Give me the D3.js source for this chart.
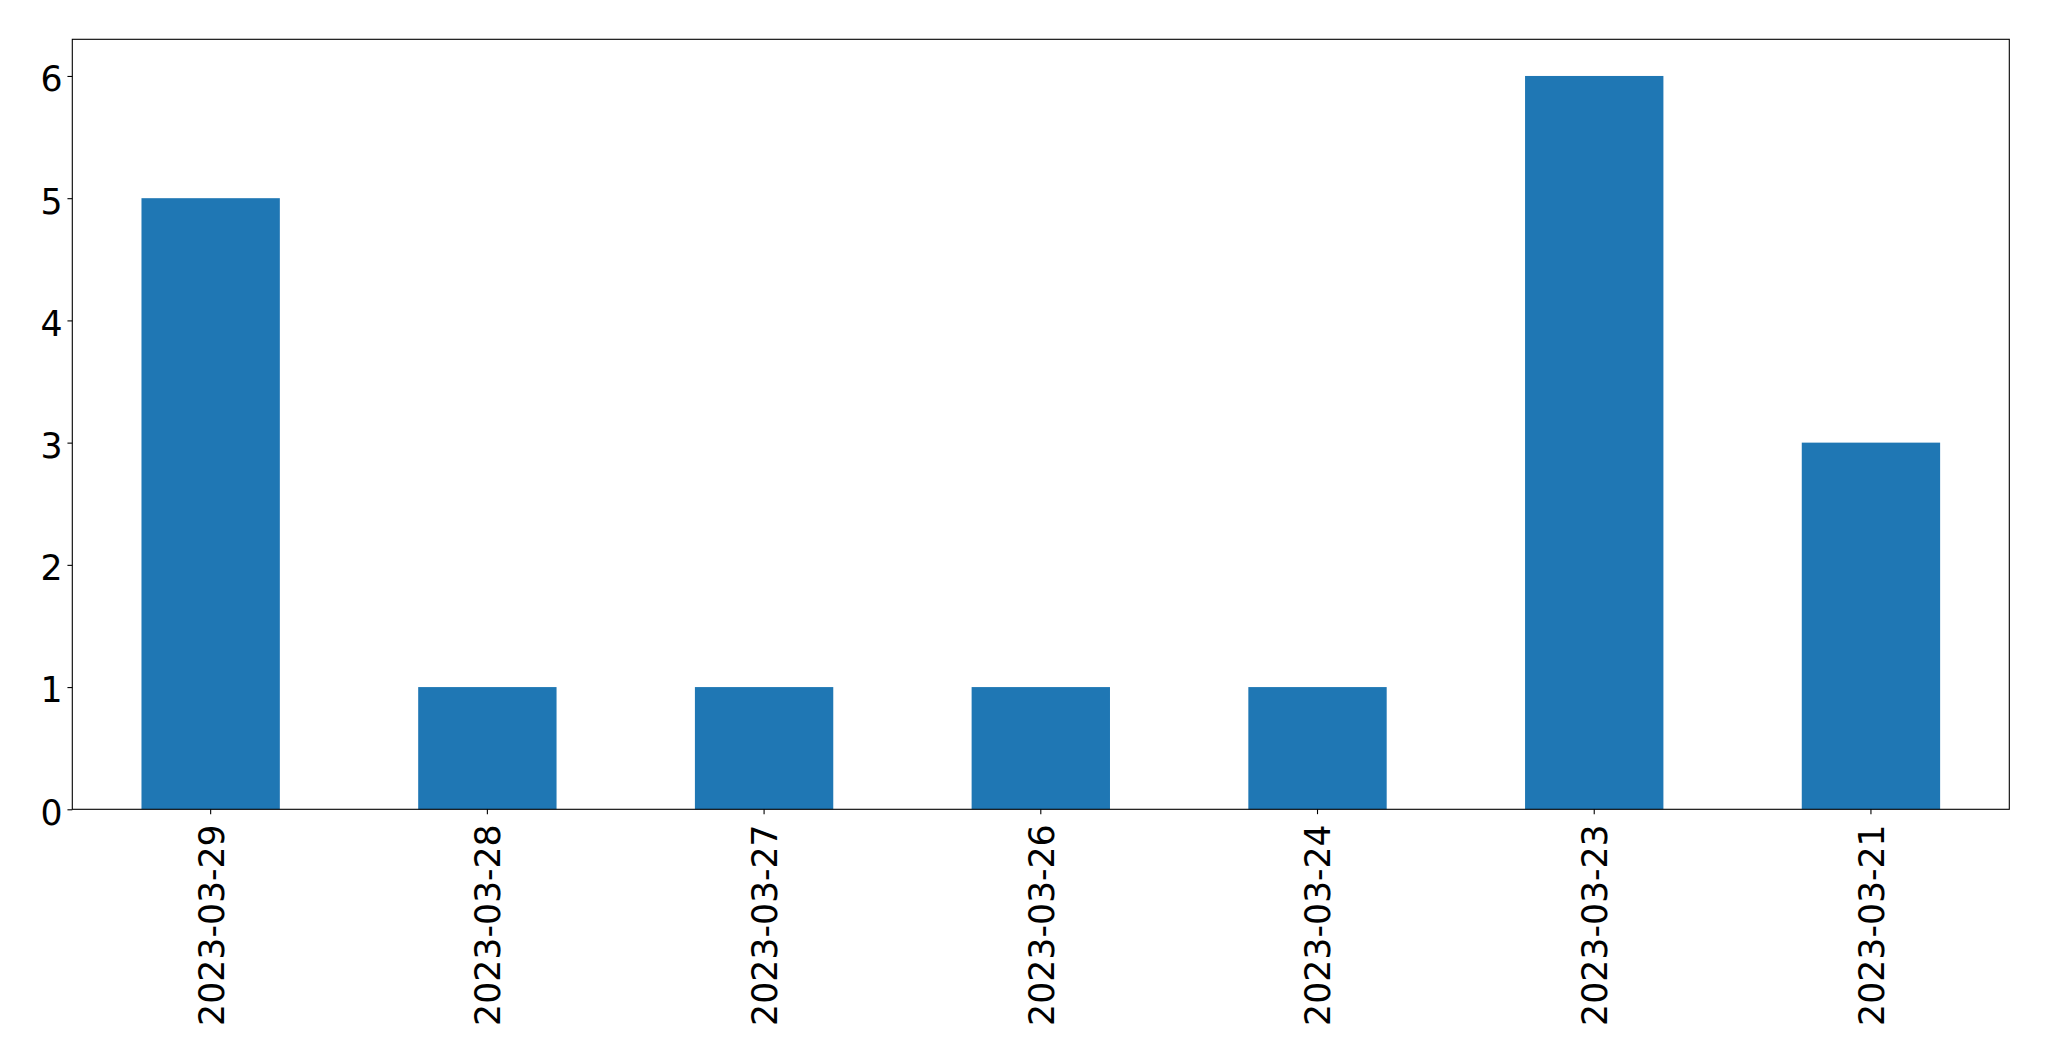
<!DOCTYPE html>
<html>
<head>
<meta charset="utf-8">
<script src="https://cdn.jsdelivr.net/npm/d3@7"></script>
<style>
  html, body { margin: 0; padding: 0; background: #ffffff; }
  svg { display: block; }
  text { font-family: "DejaVu Sans", sans-serif; fill: #000; }
</style>
</head>
<body>
<script>
const categories = ["2023-03-29", "2023-03-28", "2023-03-27", "2023-03-26", "2023-03-24", "2023-03-23", "2023-03-21"];
const values = [5, 1, 1, 1, 1, 6, 3];
const yTicks = [0, 1, 2, 3, 4, 5, 6];

const W = 2049, H = 1061;
const mLeft = 72.3, mRight = 2009.3, mTop = 39.3, mBottom = 809.3;
const fontSize = 34.7;
const tickLen = 4.86, pad = 4.86;

const svg = d3.select("body").append("svg").attr("width", W).attr("height", H);

const x = d3.scaleBand().domain(categories).range([mLeft, mRight]).paddingInner(0.5).paddingOuter(0.25);
const y = d3.scaleLinear().domain([0, 6.3]).range([mBottom, mTop]);

// bars
svg.append("g").selectAll("rect").data(categories).join("rect")
  .attr("x", d => x(d))
  .attr("width", x.bandwidth())
  .attr("y", (d, i) => y(values[i]))
  .attr("height", (d, i) => y(0) - y(values[i]))
  .attr("fill", "#1f77b4");

// y axis
const yAxis = d3.axisLeft(y).tickValues(yTicks).tickFormat(d3.format("d")).tickSize(tickLen).tickPadding(pad);
const gy = svg.append("g").attr("transform", `translate(${mLeft},0)`).call(yAxis);
gy.select(".domain").remove();
gy.selectAll(".tick line").attr("stroke", "#000").attr("stroke-width", 1.1);
gy.selectAll(".tick text")
  .style("font-size", fontSize + "px")
  .style("font-family", "DejaVu Sans")
  .attr("fill", "#000")
  .attr("dy", "0.43em");

// x axis
const xAxis = d3.axisBottom(x).tickSize(tickLen).tickPadding(pad);
const gx = svg.append("g").attr("transform", `translate(0,${mBottom})`).call(xAxis);
gx.select(".domain").remove();
gx.selectAll(".tick line").attr("stroke", "#000").attr("stroke-width", 1.1);
gx.selectAll(".tick text")
  .style("font-size", fontSize + "px")
  .style("font-family", "DejaVu Sans")
  .attr("fill", "#000")
  .attr("text-anchor", "end")
  .attr("y", 0)
  .attr("dy", "0.37em")
  .attr("transform", "translate(0,15) rotate(-90)");

// frame
svg.append("rect")
  .attr("x", mLeft).attr("y", mTop)
  .attr("width", mRight - mLeft).attr("height", mBottom - mTop)
  .attr("fill", "none").attr("stroke", "#000").attr("stroke-width", 1.1);
</script>
</body>
</html>
